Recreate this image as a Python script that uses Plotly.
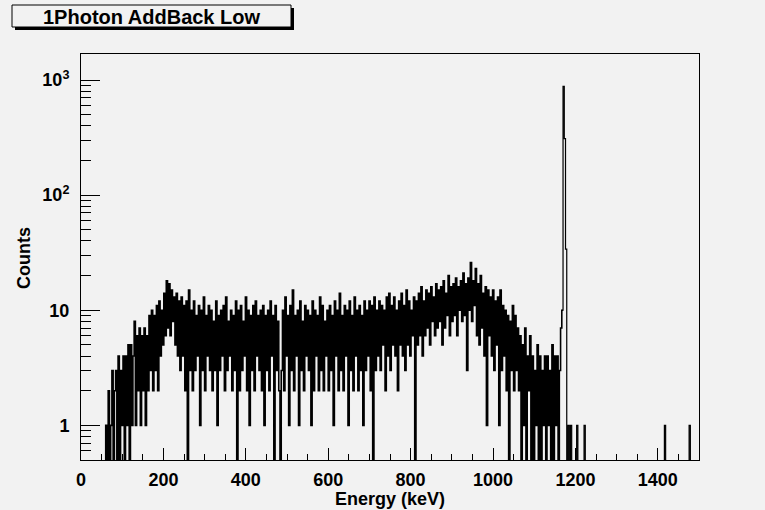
import plotly.graph_objects as go

# ---------------- data (3 keV bins, 0-1500 keV) ----------------
bin_width_kev = 3

counts_0_150 = [0, 0, 0, 0, 0, 0, 0, 0, 0, 0,
                0, 0, 0, 0, 0, 0, 0, 0, 0, 0,
                1, 0, 2, 0, 1, 3, 0, 2, 3, 0,
                4, 0, 3, 1, 4, 0, 4, 1, 5, 0,
                5, 1, 4, 8, 1, 6, 2, 7, 1, 6]

counts_150_300 = [2, 7, 1, 6, 2, 9, 3, 10, 2, 9,
                  3, 11, 2, 12, 4, 10, 5, 14, 6, 18,
                  7, 17, 6, 15, 8, 13, 5, 14, 4, 12,
                  3, 13, 4, 11, 2, 12, 0, 15, 3, 10,
                  2, 12, 3, 9, 4, 11, 1, 10, 3, 13]

counts_300_450 = [2, 9, 4, 11, 3, 10, 2, 8, 3, 12,
                  1, 9, 3, 10, 4, 11, 2, 13, 3, 8,
                  4, 10, 2, 9, 3, 12, 0, 10, 2, 11,
                  3, 8, 4, 13, 2, 10, 1, 9, 3, 11,
                  2, 12, 4, 9, 3, 10, 2, 11, 1, 9]

counts_450_600 = [3, 10, 2, 12, 4, 9, 0, 11, 3, 8,
                  2, 0, 3, 10, 2, 13, 4, 9, 1, 11,
                  3, 15, 2, 9, 4, 10, 1, 12, 3, 8,
                  2, 11, 4, 10, 3, 9, 1, 12, 2, 10,
                  4, 9, 2, 13, 3, 11, 2, 8, 4, 10]

counts_600_750 = [2, 11, 3, 9, 1, 12, 4, 10, 2, 14,
                  3, 9, 2, 11, 4, 10, 1, 12, 3, 9,
                  2, 13, 4, 10, 2, 11, 3, 9, 1, 12,
                  3, 10, 4, 12, 2, 11, 0, 13, 3, 10,
                  4, 12, 3, 11, 5, 10, 2, 13, 4, 14]

counts_750_900 = [3, 11, 5, 13, 4, 10, 2, 12, 5, 14,
                  4, 11, 3, 15, 5, 12, 4, 10, 6, 13,
                  0, 12, 5, 14, 6, 16, 4, 12, 6, 15,
                  7, 14, 5, 16, 8, 13, 6, 17, 7, 15,
                  8, 16, 5, 18, 7, 14, 9, 20, 6, 16]

counts_900_1050 = [8, 17, 9, 19, 6, 16, 10, 18, 8, 21,
                   9, 17, 3, 19, 10, 26, 8, 18, 11, 23,
                   6, 17, 5, 20, 7, 14, 4, 16, 1, 15,
                   6, 13, 4, 15, 3, 12, 5, 13, 1, 15,
                   3, 11, 4, 10, 2, 9, 0, 8, 3, 11]

counts_1050_1200 = [2, 9, 3, 7, 2, 6, 0, 5, 1, 7,
                    0, 4, 2, 6, 0, 4, 0, 3, 1, 5,
                    0, 4, 0, 3, 1, 4, 0, 4, 1, 3,
                    0, 5, 0, 4, 1, 4, 0, 3, 7, 10,
                    880, 310, 34, 0, 1, 0, 1, 0, 0, 0]

counts_1200_1350 = [0, 1, 0, 0, 0, 0, 0, 1, 0, 0,
                    0, 0, 0, 0, 0, 0, 0, 0, 0, 0,
                    0, 0, 0, 0, 0, 0, 0, 0, 0, 0,
                    0, 0, 0, 0, 0, 0, 0, 0, 0, 0,
                    0, 0, 0, 0, 0, 0, 0, 0, 0, 0]

counts_1350_1500 = [0, 0, 0, 0, 0, 0, 0, 0, 0, 0,
                    0, 0, 0, 0, 0, 0, 0, 0, 0, 0,
                    0, 0, 1, 0, 0, 0, 0, 0, 0, 0,
                    0, 0, 0, 0, 0, 0, 0, 0, 0, 0,
                    0, 0, 1, 0, 0, 0, 0, 0, 0, 0]

x_tick_values = [0, 200, 400, 600, 800, 1000, 1200, 1400]
y_tick_values = [1, 10, 100, 1000]
y_tick_labels = ["1", "10", "10<sup>2</sup>", "10<sup>3</sup>"]

title_text = "1Photon AddBack Low"
x_title = "Energy (keV)"
y_title = "Counts"

# ---------------- build histogram ----------------
counts = (counts_0_150 + counts_150_300 + counts_300_450 + counts_450_600 +
          counts_600_750 + counts_750_900 + counts_900_1050 + counts_1050_1200 +
          counts_1200_1350 + counts_1350_1500)
edges = [i * bin_width_kev for i in range(len(counts) + 1)]
# empty bins drop to the bottom of the log frame, as ROOT draws them
y_draw = [c if c > 0 else 1e-2 for c in counts]

split = 390  # dense continuum (drawn heavier) vs. photopeak and sparse tail
xa = edges[:split + 1]
ya = y_draw[:split] + [y_draw[split - 1]]
xb = edges[split - 1:]
yb = y_draw[split - 1:] + [y_draw[-1]]

W, H = 765, 510
L, R, T, B = 81, 699, 54, 460
BG = "#f2f2f2"
FONT = "Liberation Sans, Arial, Helvetica, sans-serif"


def px(x):
    return (x - L) / (R - L)


def py(y):
    return (B - y) / (B - T)


fig = go.Figure()
fig.add_trace(go.Scatter(
    x=xa, y=ya, mode="lines", line=dict(color="black", width=1.6, shape="hv"),
    hoverinfo="skip", showlegend=False))
fig.add_trace(go.Scatter(
    x=xb, y=yb, mode="lines", line=dict(color="black", width=1.2, shape="hv"),
    hoverinfo="skip", showlegend=False))

minor_y = [v * m for m in (0.1, 1, 10, 100) for v in range(2, 10)]
minor_y = [v for v in minor_y if v >= 0.5]

fig.update_layout(
    width=W, height=H,
    margin=dict(l=L, r=W - R, t=T, b=H - B, pad=0),
    paper_bgcolor=BG, plot_bgcolor=BG,
    showlegend=False,
    xaxis=dict(
        range=[0, 1500], tickmode="array", tickvals=x_tick_values,
        ticks="inside", ticklen=12, tickwidth=1, tickcolor="black",
        minor=dict(ticks="inside", ticklen=6, tickwidth=1, tickcolor="black", dtick=50, tick0=0),
        showline=True, linecolor="black", linewidth=1, mirror=True,
        showgrid=False, zeroline=False,
        tickfont=dict(family=FONT, size=18, color="black", weight="bold"),
        ticklabelstandoff=3,
    ),
    yaxis=dict(
        type="log", range=[-0.301, 3.226], tickmode="array",
        tickvals=y_tick_values, ticktext=y_tick_labels,
        ticks="inside", ticklen=19, tickwidth=1, tickcolor="black",
        minor=dict(ticks="inside", ticklen=10, tickwidth=1, tickcolor="black",
                   tickmode="array", tickvals=minor_y),
        showline=True, linecolor="black", linewidth=1, mirror=True,
        showgrid=False, zeroline=False,
        tickfont=dict(family=FONT, size=18, color="black", weight="bold"),
        ticklabelstandoff=7,
    ),
)

# title pave with shadow
fig.add_shape(type="rect", xref="paper", yref="paper",
              x0=px(15), x1=px(294), y0=py(30), y1=py(8),
              fillcolor="black", line=dict(width=0), layer="above")
fig.add_shape(type="rect", xref="paper", yref="paper",
              x0=px(12), x1=px(291), y0=py(27), y1=py(5),
              fillcolor=BG, line=dict(color="black", width=1), layer="above")
fig.add_annotation(xref="paper", yref="paper", x=px(151), y=py(17),
                   text="<b>" + title_text + "</b>", showarrow=False,
                   font=dict(family=FONT, size=20, color="black"),
                   xanchor="center", yanchor="middle")

fig.add_annotation(xref="paper", yref="paper", x=px(390), y=py(499),
                   text="<b>" + x_title + "</b>", showarrow=False,
                   font=dict(family=FONT, size=18, color="black"),
                   xanchor="center", yanchor="middle")
fig.add_annotation(xref="paper", yref="paper", x=px(24), y=py(258),
                   text="<b>" + y_title + "</b>", showarrow=False, textangle=-90,
                   font=dict(family=FONT, size=18, color="black"),
                   xanchor="center", yanchor="middle")

fig.write_html("out.html")
